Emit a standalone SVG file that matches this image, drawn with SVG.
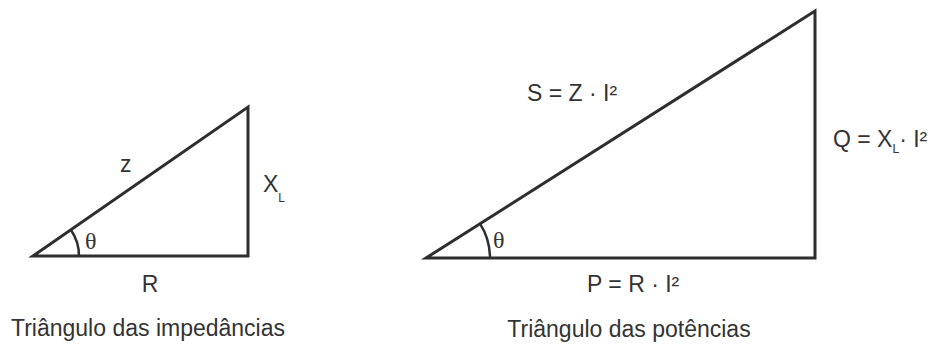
<svg xmlns="http://www.w3.org/2000/svg" width="932" height="345" viewBox="0 0 932 345">
<style>
.tri{fill:none;stroke:#2e2e2e;stroke-width:3;stroke-linejoin:miter}
.arc{fill:none;stroke:#2e2e2e;stroke-width:2.5}
text{font-family:"Liberation Sans",Arial,sans-serif;font-size:23px;fill:#333}
.th{font-family:"Liberation Serif","Times New Roman",serif;font-size:24px}
.sub{font-size:12px}
</style>
<rect width="932" height="345" fill="#fff"/>
<g id="triangulo-impedancias">
<path class="tri" d="M33,256 L248,256 L248,107 Z"/>
<path class="arc" d="M79,256 A46,46 0 0 0 70.8,229.8"/>
<text x="120" y="172">z</text>
<text class="th" x="85" y="249">θ</text>
<text x="263" y="192">X<tspan class="sub" dy="10">L</tspan></text>
<text x="150" y="292" text-anchor="middle">R</text>
<text x="148" y="336" text-anchor="middle">Triângulo das impedâncias</text>
</g>
<g id="triangulo-potencias">
<path class="tri" d="M426,258 L815,258 L815,11 Z"/>
<path class="arc" d="M490,258 A64,64 0 0 0 480,223.7"/>
<text x="527" y="101">S = Z · I²</text>
<text class="th" x="493" y="248">θ</text>
<text x="833" y="147">Q = X<tspan class="sub" dy="6">L</tspan><tspan dy="-6">· I²</tspan></text>
<text x="587" y="292">P = R · I²</text>
<text x="629" y="337" text-anchor="middle">Triângulo das potências</text>
</g>
</svg>
